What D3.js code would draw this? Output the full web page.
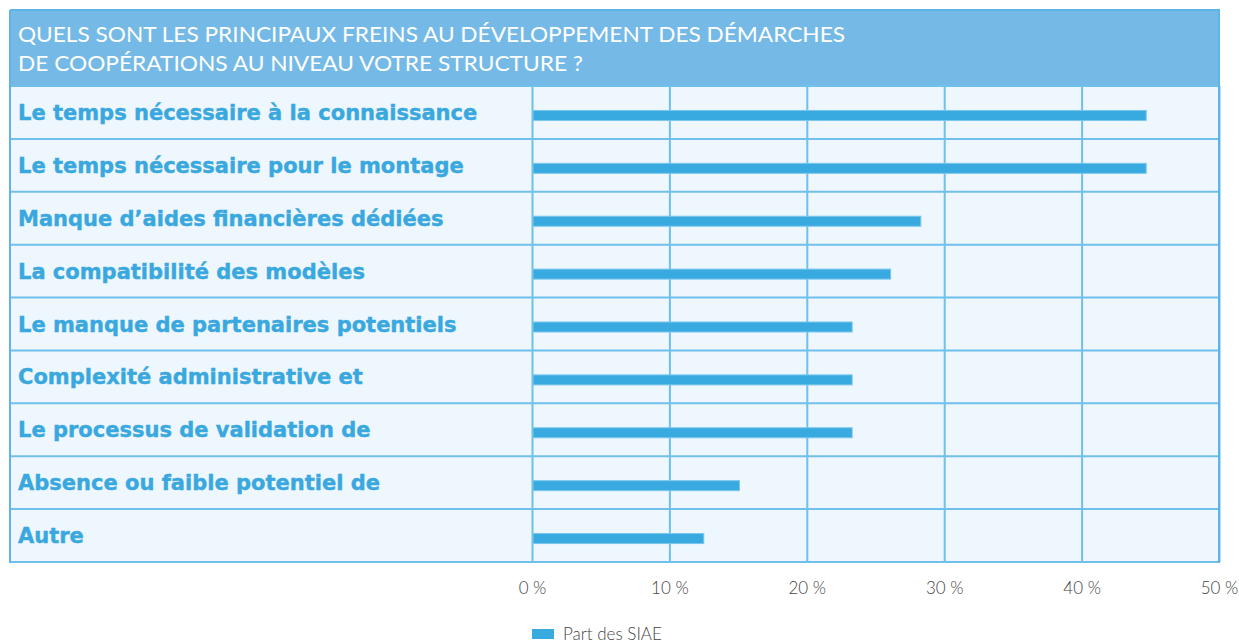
<!DOCTYPE html>
<html>
<head>
<meta charset="utf-8">
<script src="https://cdn.jsdelivr.net/npm/d3@7"></script>
<style>
  body { margin: 0; background: #fff; }
</style>
</head>
<body>
<div id="chart"></div>
<script>
// données
const titleLines = [
    "QUELS SONT LES PRINCIPAUX FREINS AU DÉVELOPPEMENT DES DÉMARCHES",
    "DE COOPÉRATIONS AU NIVEAU VOTRE STRUCTURE ?"
];
const categories = [
    "Le temps nécessaire à la connaissance",
    "Le temps nécessaire pour le montage",
    "Manque d’aides financières dédiées",
    "La compatibilité des modèles",
    "Le manque de partenaires potentiels",
    "Complexité administrative et",
    "Le processus de validation de",
    "Absence ou faible potentiel de",
    "Autre"
];
const values = [44.7, 44.7, 28.3, 26.1, 23.3, 23.3, 23.3, 15.1, 12.5];
const tickValues = [0, 10, 20, 30, 40, 50];
const seriesName = "Part des SIAE";

(function () {
    const width = 1239;
    const height = 644;

    const gridColor = "#6fc0ea";
    const barColor = "#39aae0";

    const svg = d3.select("#chart")
        .append("svg")
        .attr("width", width)
        .attr("height", height);

    const x = d3.scaleLinear()
        .domain([0, 50])
        .range([532, 1219]);

    const y = d3.scaleBand()
        .domain(categories)
        .range([86, 562])
        .paddingInner(0);

    // fond du tableau
    svg.append("rect")
        .attr("x", 10).attr("y", 86)
        .attr("width", 1209).attr("height", 476)
        .attr("fill", "#eef6fe");

    // bandeau titre
    svg.append("rect")
        .attr("x", 10).attr("y", 10)
        .attr("width", 1209).attr("height", 76)
        .attr("fill", "#75bae7");

    svg.selectAll(".title")
        .data(titleLines)
        .enter().append("text")
        .attr("x", 18)
        .attr("y", (d, i) => 42 + i * 29)
        .attr("fill", "#fff")
        .attr("font-family", "Lato, 'Open Sans', sans-serif")
        .attr("font-size", "21px")
        .attr("textLength", (d, i) => i === 0 ? 827 : 565)
        .attr("lengthAdjust", "spacingAndGlyphs")
        .text(d => d);

    // grille verticale
    const grid = svg.append("g")
        .attr("transform", "translate(0,562)")
        .call(d3.axisBottom(x).tickValues(tickValues).tickSize(-476).tickFormat(""));
    grid.select(".domain").remove();
    grid.selectAll(".tick line")
        .attr("stroke", gridColor)
        .attr("stroke-width", 2);

    // lignes de séparation des lignes
    const rowLines = categories.map(c => y(c)).concat([562]);
    svg.selectAll(".row-line")
        .data(rowLines)
        .enter().append("line")
        .attr("x1", 10).attr("x2", 1220)
        .attr("y1", d => d).attr("y2", d => d)
        .attr("stroke", gridColor)
        .attr("stroke-width", 2);

    // bordures
    svg.append("line")
        .attr("x1", 10).attr("x2", 10)
        .attr("y1", 10).attr("y2", 563)
        .attr("stroke", "#5cb5e6")
        .attr("stroke-width", 2);
    svg.append("line")
        .attr("x1", 1219).attr("x2", 1219)
        .attr("y1", 10).attr("y2", 563)
        .attr("stroke", "#5cb5e6")
        .attr("stroke-width", 2);
    svg.append("line")
        .attr("x1", 10).attr("x2", 1220)
        .attr("y1", 10).attr("y2", 10)
        .attr("stroke", "#5cb5e6")
        .attr("stroke-width", 2);

    // libellés
    svg.selectAll(".label")
        .data(categories)
        .enter().append("text")
        .attr("x", 18)
        .attr("y", d => y(d) + 34)
        .attr("fill", "#39a8df")
        .attr("stroke", "#39a8df")
        .attr("stroke-width", 0.4)
        .attr("font-family", "'DejaVu Sans', Verdana, sans-serif")
        .attr("font-weight", "bold")
        .attr("font-size", "21px")
        .text(d => d);

    // barres
    svg.selectAll(".bar")
        .data(values)
        .enter().append("rect")
        .attr("x", x(0) + 1)
        .attr("y", (d, i) => y(categories[i]) + y.bandwidth() / 2 - 2)
        .attr("width", d => x(d) - x(0) - 1)
        .attr("height", 10)
        .attr("fill", barColor)
        .attr("stroke", "#7ac6ee")
        .attr("stroke-width", 1);

    // axe des x
    const axis = svg.append("g")
        .attr("transform", "translate(0,562)")
        .call(d3.axisBottom(x).tickValues(tickValues).tickSize(0).tickPadding(20)
            .tickFormat(d => d + " %"));
    axis.select(".domain").remove();
    axis.selectAll("text")
        .attr("fill", "#444")
        .attr("font-family", "Lato, 'Open Sans', sans-serif")
        .attr("font-weight", 300)
        .attr("font-size", "17px");

    // légende
    svg.append("rect")
        .attr("x", 532).attr("y", 629)
        .attr("width", 22).attr("height", 10)
        .attr("fill", barColor);
    svg.append("text")
        .attr("x", 563).attr("y", 640)
        .attr("fill", "#444")
        .attr("font-family", "Lato, 'Open Sans', sans-serif")
        .attr("font-weight", 300)
        .attr("font-size", "17px")
        .text(seriesName);
})();
</script>
</body>
</html>
